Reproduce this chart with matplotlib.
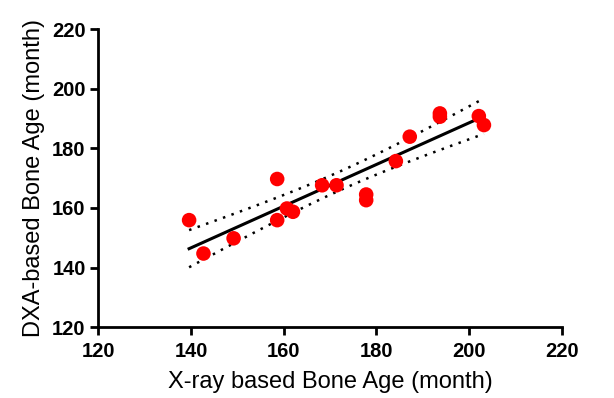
import numpy as np
import matplotlib
matplotlib.use("Agg")
import matplotlib.pyplot as plt

xray_age = [139.6, 142.7, 149.2, 158.6, 158.6, 160.7, 162.0, 168.3, 171.4,
            177.8, 177.8, 184.2, 187.2, 193.7, 193.7, 202.1, 203.2]
dxa_age = [155.9, 144.7, 149.8, 169.7, 155.9, 159.8, 158.7, 167.6, 167.6,
           164.5, 162.6, 175.7, 183.9, 191.7, 190.6, 190.8, 187.8]
ticks = [120, 140, 160, 180, 200, 220]
xlabel = "X-ray based Bone Age (month)"
ylabel = "DXA-based Bone Age (month)"

plt.rcParams['font.family'] = ['Liberation Sans', 'DejaVu Sans']

fig = plt.figure(figsize=(6.14, 3.98), dpi=100)
ax = fig.add_axes([0.160, 0.178, 0.755, 0.749])

x = np.array(xray_age)
y = np.array(dxa_age)
n = len(x)
slope, intercept = np.polyfit(x, y, 1)
xs = np.linspace(x.min(), x.max(), 200)
ys = slope * xs + intercept
resid = y - (slope * x + intercept)
s = np.sqrt(np.sum(resid**2) / (n - 2))
t_val = 2.131  # t(0.975, df=15)
se = s * np.sqrt(1.0 / n + (xs - x.mean())**2 / np.sum((x - x.mean())**2))

ax.plot(xs, ys, color='black', lw=2.2, zorder=2)
for band in (ys + t_val * se, ys - t_val * se):
    ax.plot(xs, band, color='black', lw=1.8, linestyle=(0, (1, 2.6)), zorder=2)

ax.scatter(x, y, s=110, color='#ff0000', edgecolors='none', zorder=3)

ax.set_xlim(120, 220)
ax.set_ylim(120, 220)
ax.set_xticks(ticks)
ax.set_yticks(ticks)
ax.set_xticklabels([str(t) for t in ticks], fontweight='bold', fontsize=14.5)
ax.set_yticklabels([str(t) for t in ticks], fontweight='bold', fontsize=14.5)
ax.spines['top'].set_visible(False)
ax.spines['right'].set_visible(False)
for sp in ('left', 'bottom'):
    ax.spines[sp].set_linewidth(2)
ax.tick_params(axis='both', direction='out', length=6, width=2)
ax.tick_params(axis='x', pad=5)
ax.tick_params(axis='y', pad=3)
ax.set_xlabel(xlabel, fontsize=17, labelpad=7)
ax.set_ylabel(ylabel, fontsize=17, labelpad=5)

fig.savefig("out.png", dpi=100)
